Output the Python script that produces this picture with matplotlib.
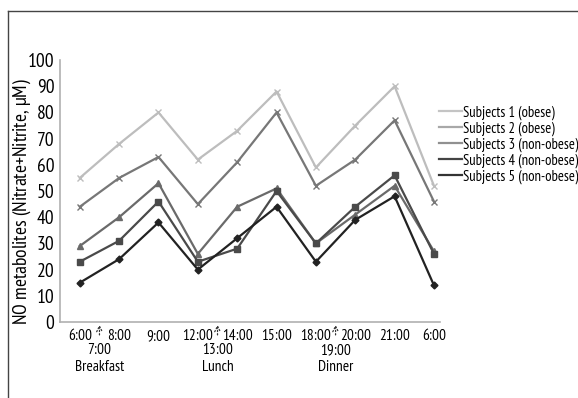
import matplotlib.pyplot as plt
from matplotlib import font_manager as fm
from matplotlib.lines import Line2D

# pick a narrow sans face if one is installed
available = set(f.name for f in fm.fontManager.ttflist)
narrow = [n for n in ['Myriad Pro', 'PT Sans Narrow', 'Fira Sans Condensed', 'Asap Condensed',
                      'Archivo Narrow', 'Liberation Sans Narrow'] if n in available]
plt.rcParams['font.family'] = narrow[:1] + ['DejaVu Sans']
plt.rcParams['mathtext.fontset'] = 'custom'
plt.rcParams['mathtext.it'] = (narrow[:1] + ['DejaVu Sans'])[0] + ':italic'

times = ["6:00", "8:00", "9:00", "12:00", "14:00", "15:00", "18:00", "20:00", "21:00", "6:00"]
subj1 = [55, 68, 80, 62, 73, 88, 59, 75, 90, 52]
subj2 = [44, 55, 63, 45, 61, 80, 52, 62, 77, 46]
subj3 = [29, 40, 53, 26, 44, 51, 30, 41, 52, 27]
subj4 = [23, 31, 46, 23, 28, 50, 30, 44, 56, 26]
subj5 = [15, 24, 38, 20, 32, 44, 23, 39, 48, 14]
names = ["Subjects 1 (obese)", "Subjects 2 (obese)", "Subjects 3 (non-obese)",
         "Subjects 4 (non-obese)", "Subjects 5 (non-obese)"]
meals = [(0.5, "7:00\nBreakfast"), (3.5, "13:00\nLunch"), (6.5, "19:00\nDinner")]

series = [subj1, subj2, subj3, subj4, subj5]
colors = ["#bdbdbd", "#777777", "#6a6a6a", "#4a4a4a", "#222222"]
leg_colors = ["#c4c4c4", "#a8a8a8", "#909090", "#444444", "#333333"]
markers = ["x", "x", "^", "s", "D"]
msizes = [5, 5, 4.5, 5, 3.5]

fig = plt.figure(figsize=(5.78, 3.98), dpi=100)
ax = fig.add_axes([0.104, 0.191, 0.657, 0.658])

x = list(range(len(times)))
for vals, c, m, ms in zip(series, colors, markers, msizes):
    ax.plot(x, vals, color=c, lw=1.6, marker=m, ms=ms, mew=1.0, mec=c, mfc=c)

ax.set_xlim(-0.5, 9.15)
ax.set_ylim(0, 100)
ax.set_yticks(range(0, 101, 10))
ax.set_xticks(x)
ax.set_xticklabels(times, fontsize=11)
ax.tick_params(axis='y', labelsize=14, length=0, pad=4)
ax.tick_params(axis='x', length=0, pad=5)
for s in ['top', 'right']:
    ax.spines[s].set_visible(False)
for s in ['left', 'bottom']:
    ax.spines[s].set_color('#b0b0b0')
    ax.spines[s].set_linewidth(1.2)

ax.set_ylabel(r"NO metabolites (Nitrate+Nitrite, $\mu$M)", fontsize=14)
ax.yaxis.set_label_coords(-0.072, 0.46)

# meal markers below the time axis
for pos, txt in meals:
    ax.annotate("", xy=(pos, 0), xycoords='data',
                xytext=(pos, -6), textcoords='data',
                arrowprops=dict(arrowstyle='->', linestyle=':', color='#333333', lw=0.9),
                annotation_clip=False)
    ax.text(pos, -8.0, txt, ha='center', va='top', fontsize=11,
            linespacing=1.25, clip_on=False)

handles = [Line2D([0], [0], color=c, lw=1.6) for c in leg_colors]
fig.legend(handles, names, loc='upper left', bbox_to_anchor=(0.759, 0.735),
           frameon=False, fontsize=10.5, handlelength=1.6, handletextpad=0.05,
           labelspacing=0.1, borderpad=0, borderaxespad=0)

# frame along the top and left edges
fig.add_artist(Line2D([0.014, 0.014], [0.0, 0.972], color='#444444', lw=1.0))
fig.add_artist(Line2D([0.014, 1.0], [0.972, 0.972], color='#444444', lw=1.0))

fig.savefig("out.png", dpi=100)
